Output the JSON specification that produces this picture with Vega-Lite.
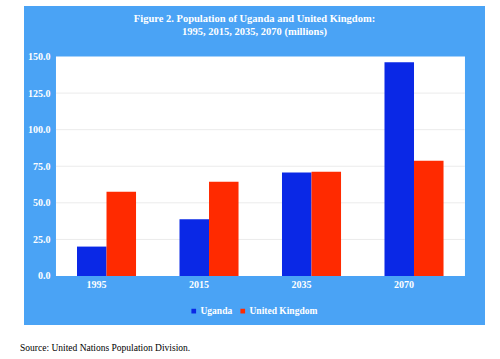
{
  "$schema": "https://vega.github.io/schema/vega-lite/v6.json",
  "background": "white",
  "padding": {"left": 20, "top": 6, "right": 0, "bottom": 0},
  "title": {"text": "Source: United Nations Population Division.", "orient": "bottom", "anchor": "start", "font": "Liberation Serif", "fontSize": 9.5, "fontWeight": "normal", "color": "black", "offset": 18, "dx": -4},
  "config": {"view": {"stroke": null}},
  "vconcat": [
    {
      "width": 461,
      "height": 319,
      "view": {"fill": "#4aa3f5", "stroke": null},
      "title": {"text": ["Figure 2. Population of Uganda and United Kingdom:", "1995, 2015, 2035, 2070 (millions)"], "font": "Liberation Serif", "fontSize": 10.5, "fontWeight": "bold", "color": "white", "anchor": "middle", "offset": -31, "lineHeight": 12.5},
      "layer": [
        {
          "data": {"values": [{"a": 1}]},
          "mark": {"type": "rect", "fill": "white"},
          "encoding": {
            "x": {"datum": "1995", "type": "nominal", "bandPosition": -0.356},
            "x2": {"datum": "2070", "bandPosition": 1.363},
            "y": {"datum": 0, "type": "quantitative"},
            "y2": {"datum": 150}
          }
        },
        {
          "data": {"values": [{"v": 25}, {"v": 50}, {"v": 75}, {"v": 100}, {"v": 125}]},
          "mark": {"type": "rule", "color": "#ebebeb", "strokeWidth": 1},
          "encoding": {
            "x": {"datum": "1995", "type": "nominal", "bandPosition": -0.356},
            "x2": {"datum": "2070", "bandPosition": 1.363},
            "y": {"field": "v", "type": "quantitative"}
          }
        },
        {
          "data": {"values": [
            {"year": "1995", "country": "Uganda", "value": 20.1},
            {"year": "1995", "country": "United Kingdom", "value": 57.5},
            {"year": "2015", "country": "Uganda", "value": 38.8},
            {"year": "2015", "country": "United Kingdom", "value": 64.4},
            {"year": "2035", "country": "Uganda", "value": 70.8},
            {"year": "2035", "country": "United Kingdom", "value": 71.2},
            {"year": "2070", "country": "Uganda", "value": 146.1},
            {"year": "2070", "country": "United Kingdom", "value": 78.8}
          ]},
          "mark": {"type": "bar"},
          "encoding": {
            "x": {"field": "year", "type": "nominal",
              "scale": {"domain": ["1995", "2015", "2035", "2070"], "paddingInner": 0.424, "paddingOuter": 0.4608, "align": 0.561},
              "axis": {"orient": "bottom", "offset": -49, "labelAngle": 0, "title": null, "domain": false, "ticks": false, "tickSize": 0, "labelPadding": 8, "labelColor": "white", "labelFont": "Liberation Serif", "labelFontWeight": "bold", "labelFontSize": 10}},
            "xOffset": {"field": "country", "type": "nominal", "scale": {"paddingInner": 0, "paddingOuter": 0}},
            "y": {"field": "value", "type": "quantitative",
              "scale": {"domain": [-33.49, 184.51], "nice": false, "zero": false},
              "axis": {"values": [0, 25, 50, 75, 100, 125, 150], "format": ".1f", "title": null, "domain": false, "ticks": false, "tickSize": 0, "grid": false, "offset": -28, "labelPadding": 2, "labelColor": "white", "labelFont": "Liberation Serif", "labelFontWeight": "bold", "labelFontSize": 10}},
            "color": {"field": "country", "type": "nominal",
              "scale": {"domain": ["Uganda", "United Kingdom"], "range": ["#0a28e6", "#ff2a00"]},
              "legend": {"orient": "none", "legendX": 165, "legendY": 300, "direction": "horizontal", "title": null, "symbolType": "square", "symbolSize": 22, "symbolStrokeWidth": 0, "labelFont": "Liberation Serif", "labelFontWeight": "bold", "labelFontSize": 9.5, "labelColor": "white", "columnPadding": 5, "labelOffset": 2}}
          }
        }
      ]
    }
  ]
}
